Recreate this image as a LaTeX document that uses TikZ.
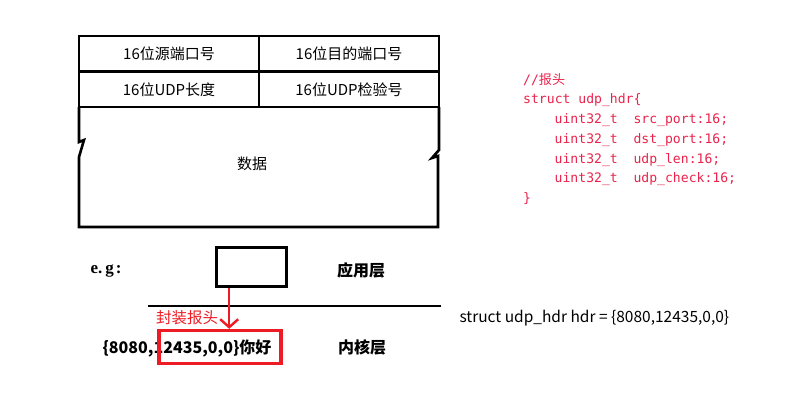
\documentclass[tikz,border=0pt]{standalone}
\usepackage{fontspec}
\setmainfont{Noto Sans CJK SC}
\setmonofont{DejaVu Sans Mono}
\newfontfamily\cjk{Noto Sans CJK SC}
\newfontfamily\egfont{Liberation Serif}
\usepackage{xcolor}
\usepackage{tikz}
\usetikzlibrary{arrows.meta, positioning}
\definecolor{paintred}{RGB}{237, 28, 36}
\definecolor{codered}{RGB}{235, 35, 75}
\definecolor{inkblack}{RGB}{0, 0, 0}

\begin{document}
\begin{tikzpicture}[x=1pt, y=-1pt,
  frame/.style={line width=2.6pt, color=inkblack},
  cell/.style={draw, line width=2.6pt, outer sep=0pt, inner sep=0pt,
               minimum width=180pt, minimum height=35.5pt,
               font=\fontsize{15}{17}\selectfont},
  layer/.style={font=\bfseries\fontsize{16}{18}\selectfont},
  redarrow/.style={-{Straight Barb[length=8pt, width=18pt]}, line width=2.4pt, color=paintred},
  code/.style={align=left, anchor=north west, inner sep=0pt, color=codered,
               font=\ttfamily\fontsize{13.1}{19.7}\selectfont}
]
  \useasboundingbox[fill=white] (0,0) rectangle (790,410);

  % UDP header
  \node[cell] (srcport) at (169,53.75) {16位源端口号};
  \node[cell, right=0pt of srcport] (dstport) {16位目的端口号};
  \node[cell, below=0pt of srcport] (udplen) {16位UDP长度};
  \node[cell, right=0pt of udplen] (udpcheck) {16位UDP检验号};
  \draw[frame] (udplen.south west) -- (79,142) -- (84,140) -- (79,157) -- (79,227)
    -- (438,227) -- (438,156) -- (432,158) -- (439,150) -- (udpcheck.south east);
  \node[font=\fontsize{15}{17}\selectfont] (payload) at (252,164) {数据};

  % struct
  \node[code] (udphdr) at (523,73) {//{\cjk 报头}\\
    struct udp\_hdr\{\\
    \hspace*{31.5pt}uint32\_t \ src\_port:16;\\
    \hspace*{31.5pt}uint32\_t \ dst\_port:16;\\
    \hspace*{31.5pt}uint32\_t \ udp\_len:16;\\
    \hspace*{31.5pt}uint32\_t \ udp\_check:16;\\
    \}};

  % example
  \node[font=\egfont\bfseries\fontsize{17}{19}\selectfont] (eg) at (106,271) {e.\hspace{3pt}g\hspace{2pt}:};
  \node[draw, line width=2.6pt, minimum width=70pt, minimum height=39pt] (appbox) at (251.5,267) {};
  \node[layer] (applayer) at (361,270) {应用层};
  \coordinate (divl) at (148,306);
  \coordinate (divr) at (441,306);
  \draw[frame] (divl) -- (divr);
  \node[color=paintred, font=\fontsize{15.5}{17}\selectfont] (packhdr) at (187,318) {封装报头};
  \node[anchor=west, font=\fontsize{15.5}{17}\selectfont] (hdrinit) at (456,318)
    {struct udp\_hdr hdr = \{8080,12435,0,0\}};
  \node[layer] (kdata) at (187,348) {\{8080,12435,0,0\}你好};
  \node[draw=paintred, line width=3.4pt, minimum width=122pt, minimum height=33pt] (kbox) at (220,347) {};
  \node[layer] (kernlayer) at (362,347) {内核层};

  \draw[redarrow] ([xshift=14pt]appbox.south west) -- ([xshift=14pt]appbox.south west |- kbox.north);
\end{tikzpicture}
\end{document}
